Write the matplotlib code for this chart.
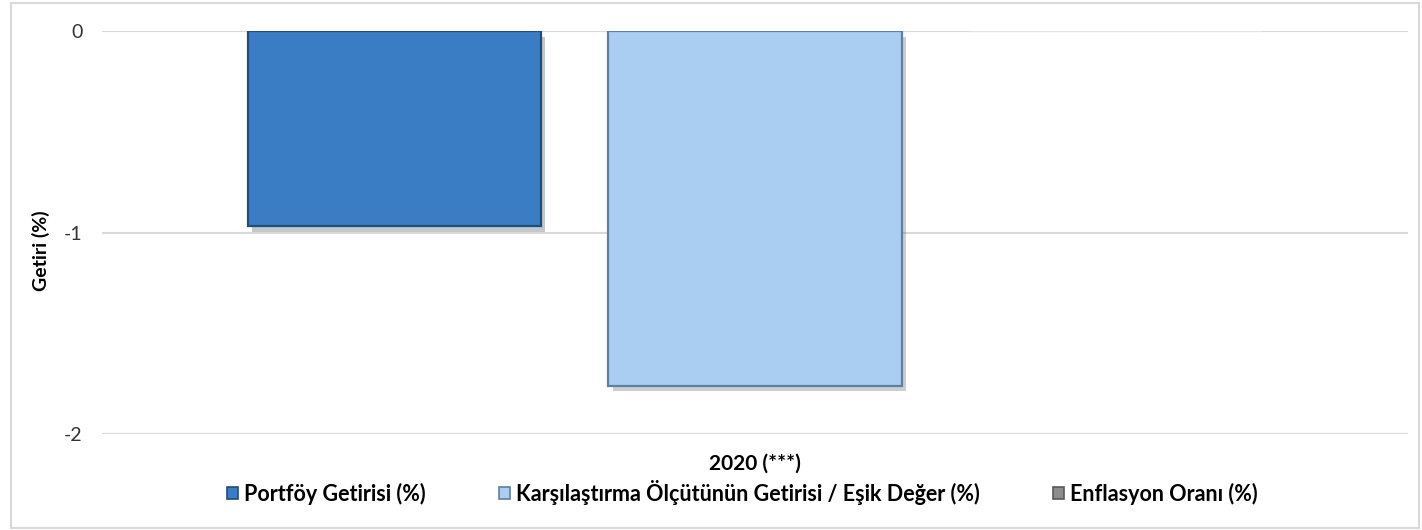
import matplotlib
matplotlib.use('Agg')
import matplotlib.pyplot as plt
import matplotlib.patheffects as pe
from matplotlib.patches import Rectangle

# Datos
categoria = '2020 (***)'
series = ['Portföy Getirisi (%)',
          'Karşılaştırma Ölçütünün Getirisi / Eşik Değer (%)',
          'Enflasyon Oranı (%)']
valores = [-0.97, -1.76, 0.0]
colores = ['#3A7DC4', '#A9CEF1', '#EDEDED']
bordes = ['#1F4E79', '#5F7F9F', '#E3E3E3']
y_ticks = [0, -1, -2]

plt.rcParams['font.family'] = ['Lato', 'DejaVu Sans']

fig = plt.figure(figsize=(14.22, 5.30), dpi=100)
ax = fig.add_axes([0.0717, 0.181, 0.9185, 0.7605])

ancho = 0.2244
offsets = [-0.276, 0.0, 0.276]
for v, off, c, b in zip(valores, offsets, colores, bordes):
    ax.bar(off, v, width=ancho, color=c, edgecolor=b, linewidth=1.6, zorder=3,
           path_effects=[pe.SimplePatchShadow(offset=(3, -4), alpha=0.25), pe.Normal()])

ax.set_xlim(-0.5, 0.5)
ax.set_ylim(-2, 0)
ax.set_yticks(y_ticks)
ax.set_yticklabels([str(t) for t in y_ticks], fontsize=14, color='#333333')
ax.set_xticks([])
ax.tick_params(axis='y', length=0, pad=14)
ax.grid(axis='y', color='#D9D9D9', linewidth=1.5, zorder=0)
for s in ax.spines.values():
    s.set_visible(False)

ax.set_ylabel('Getiri (%)', fontsize=14, fontweight='bold')
ax.yaxis.set_label_coords(-0.04, 0.455)

fig.text(0.531, 0.126, categoria, ha='center', va='center', fontsize=15, fontweight='bold')

handles = [Rectangle((0, 0), 1, 1, facecolor=c, edgecolor=b, linewidth=1.2)
           for c, b in zip(['#3A7DC4', '#A9CEF1', '#8C8C8C'], ['#1F4E79', '#5F7F9F', '#595959'])]
fig.legend(handles, series, loc='center', bbox_to_anchor=(0.522, 0.071), ncol=3,
           frameon=False, handlelength=0.5, handleheight=0.5, handletextpad=0.3,
           columnspacing=3.4, prop={'weight': 'bold', 'size': 15.5})

# borde exterior del grafico
fig.patches.append(Rectangle((0.008, 0.004), 0.99, 0.99, transform=fig.transFigure,
                             fill=False, edgecolor='#D9D9D9', linewidth=1.5))

fig.savefig('out.png', dpi=100)
